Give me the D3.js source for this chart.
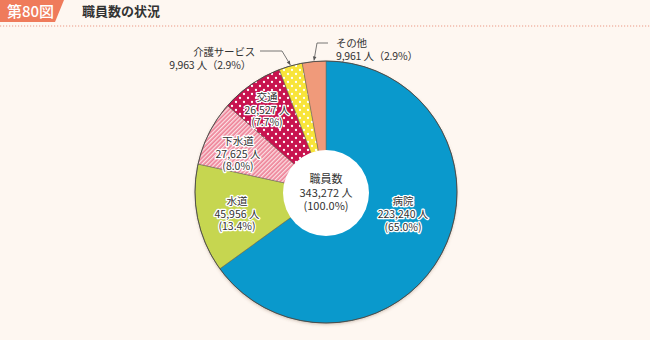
<!DOCTYPE html>
<html>
<head>
<meta charset="utf-8">
<script src="https://cdn.jsdelivr.net/npm/d3@7"></script>
<style>
  html, body { margin: 0; padding: 0; background: #fef7f1; }
  svg { display: block; }
  text { font-family: "Noto Sans CJK JP", "Noto Sans", sans-serif; }
  .halo { paint-order: stroke; stroke: #fff; stroke-width: 2.6px; stroke-linejoin: round; }
</style>
</head>
<body>
<svg id="chart" width="650" height="340"></svg>
<script>
// Staff counts by category (persons)
const categories = ["病院", "水道", "下水道", "交通", "介護サービス", "その他"];
const counts = [223240, 45956, 27625, 26527, 9963, 9961];
const shares = ["65.0%", "13.4%", "8.0%", "7.7%", "2.9%", "2.9%"];
const totalLabel = "職員数";
const totalCount = 343272;
const totalShare = "100.0%";
const figNo = "第80図";
const title = "職員数の状況";

const W = 650, H = 340;
const cx = 326, cy = 192, R = 131, innerR = 43;

const svg = d3.select("#chart");
const defs = svg.append("defs");

// Fills: plain colours and patterned ones
const stripe = defs.append("pattern").attr("id", "stripe")
  .attr("patternUnits", "userSpaceOnUse").attr("width", 3).attr("height", 3)
  .attr("patternTransform", "rotate(45)");
stripe.append("rect").attr("width", 3).attr("height", 3).attr("fill", "#ee8197");
stripe.append("rect").attr("width", 1.3).attr("height", 3).attr("fill", "#fbe0e4");

function dots(id, base) {
  const p = defs.append("pattern").attr("id", id)
    .attr("patternUnits", "userSpaceOnUse").attr("width", 8).attr("height", 8);
  p.append("rect").attr("width", 8).attr("height", 8).attr("fill", base);
  p.append("circle").attr("cx", 2).attr("cy", 2).attr("r", 1.15).attr("fill", "#fff");
  p.append("circle").attr("cx", 6).attr("cy", 6).attr("r", 1.15).attr("fill", "#fff");
}
dots("dotRed", "#c8134f");
dots("dotYellow", "#f8e43a");

const fills = ["#0a99cc", "#c6d650", "url(#stripe)", "url(#dotRed)", "url(#dotYellow)", "#f09a7a"];

const shadow = defs.append("filter").attr("id", "shadow")
  .attr("x", "-20%").attr("y", "-20%").attr("width", "140%").attr("height", "140%");
shadow.append("feDropShadow").attr("dx", 0).attr("dy", 1.5).attr("stdDeviation", 1.5)
  .attr("flood-color", "#7a5a40").attr("flood-opacity", 0.35);

// Header
const head = svg.append("g");
head.append("path")
  .attr("d", d3.line()([[0, 0], [64, 0], [55, 22], [0, 22]]))
  .attr("fill", "#ef7b5b");
head.append("text").attr("x", 7).attr("y", 17)
  .attr("fill", "#fff").attr("font-size", 15).attr("font-weight", 500)
  .text(figNo);
head.append("text").attr("x", 82).attr("y", 16)
  .attr("fill", "#333").attr("font-size", 13).attr("font-weight", 700)
  .text(title);
head.append("line").attr("x1", 0).attr("x2", W).attr("y1", 26).attr("y2", 26)
  .attr("stroke", "#eb9a86").attr("stroke-width", 1).attr("stroke-dasharray", "1.2,1.8");

// Pie
const pie = d3.pie().sort(null).value(d => d)(counts);
const arc = d3.arc().innerRadius(0).outerRadius(R);
const g = svg.append("g").attr("transform", `translate(${cx},${cy})`);

g.append("circle").attr("r", R).attr("fill", "#555").attr("filter", "url(#shadow)");
g.selectAll("path.slice").data(pie).join("path")
  .attr("class", "slice")
  .attr("d", arc)
  .attr("fill", (d, i) => fills[i])
  .attr("stroke", "#6a6a5a").attr("stroke-width", 0.5);
g.append("circle").attr("r", R).attr("fill", "none")
  .attr("stroke", "#444").attr("stroke-width", 0.8);

g.append("circle").attr("r", innerR).attr("cy", 1).attr("fill", "#fff");

const fmt = d3.format(",");

function block(parent, x, y, lines, halo, step, size) {
  const t = parent.append("text")
    .attr("transform", `translate(${x},${y})`)
    .attr("text-anchor", "middle").attr("font-size", size).attr("fill", "#333")
    .classed("halo", halo);
  lines.forEach((s, k) => {
    t.append("tspan").attr("x", 0).attr("y", k * step).text(s);
  });
}

// Label anchors for slices drawn inside the pie (offset from the centre)
const inside = [[77, 13], [-89, 13], [-88, -47], [-59, -91]];
const insideStep = [13, 12.5, 12.5, 12.5];
inside.forEach((p, i) => {
  block(g, p[0], p[1],
    [categories[i], fmt(counts[i]) + " 人", "(" + shares[i] + ")"], true, insideStep[i], 10.5);
});

block(g, 0, -9, [totalLabel, fmt(totalCount) + " 人", "(" + totalShare + ")"], false, 13.5, 11);

// Callouts for the two small slices
const leader = d3.line();
function callout(i, lines, tx, anchor, path) {
  const a = (pie[i].startAngle + pie[i].endAngle) / 2;
  const tip = [Math.sin(a) * (R + 1), -Math.cos(a) * (R + 1)];
  const pts = path.concat([tip]);
  g.append("path").attr("d", leader(pts)).attr("fill", "none")
    .attr("stroke", "#555").attr("stroke-width", 0.8);
  const ang = Math.atan2(tip[1] - pts[pts.length - 2][1], tip[0] - pts[pts.length - 2][0]);
  g.append("path")
    .attr("d", "M0,0L-4,-1.8L-4,1.8Z")
    .attr("fill", "#555")
    .attr("transform", `translate(${tip[0]},${tip[1]}) rotate(${ang * 180 / Math.PI})`);
  lines.forEach((s, k) => {
    g.append("text").attr("x", tx[k][0]).attr("y", tx[k][1])
      .attr("text-anchor", anchor[k]).attr("font-size", 10.5)
      .attr("letter-spacing", -0.2).attr("fill", "#333").text(s);
  });
}

callout(4, [categories[4], fmt(counts[4]) + " 人（" + shares[4] + "）"],
  [[-71, -136], [-75, -123]], ["end", "end"],
  [[-66, -141], [-44, -141]]);
callout(5, [categories[5], fmt(counts[5]) + " 人（" + shares[5] + "）"],
  [[10, -145], [10, -132]], ["start", "start"],
  [[2, -149], [-9, -149]]);
</script>
</body>
</html>
